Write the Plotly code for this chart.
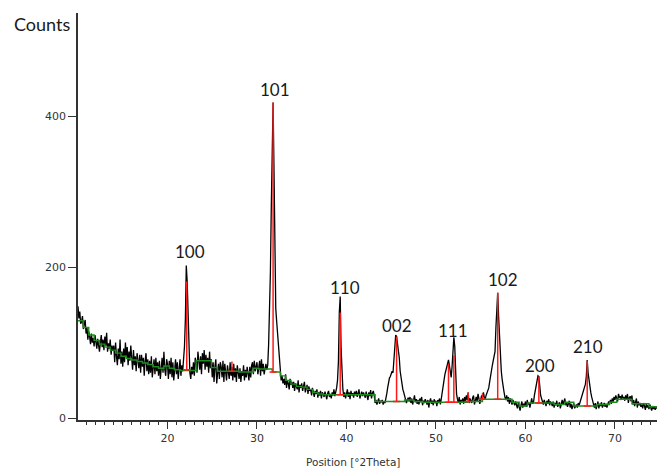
import plotly.graph_objects as go

# ---------------- data ----------------
scan_start = 10.0   # deg 2theta
scan_step = 0.1     # deg 2theta

counts = (
    [148,132,141,125,128,135,118,124,130,112] +   # 10
    [120,104,115,108,98,112,100,106,95,110] +     # 11
    [102,92,105,96,88,100,110,94,104,90] +        # 12
    [108,96,113,88,99,92,104,84,96,89] +          # 13
    [96,74,100,82,70,92,78,104,72,88] +           # 14
    [68,92,74,100,82,94,70,88,76,96] +            # 15
    [84,64,90,70,82,62,86,72,66,84] +             # 16
    [60,84,68,80,56,76,86,62,78,58] +             # 17
    [76,60,82,54,72,78,58,80,62,74] +             # 18
    [56,76,52,70,80,60,88,64,56,78] +             # 19
    [72,52,76,58,80,54,74,50,68,78] +             # 20
    [58,74,52,68,78,56,70,62,74,95] +             # 21
    [132,202,181,133,78,60,52,68,58,74] +         # 22
    [56,80,74,60,88,70,64,82,58,86] +             # 23
    [72,90,64,84,68,80,60,88,66,78] +             # 24
    [54,74,48,68,78,46,60,72,52,74] +             # 25
    [68,54,76,48,72,56,50,70,60,52] +             # 26
    [74,56,68,50,72,54,66,48,70,58] +             # 27
    [52,66,48,62,56,70,50,64,54,68] +             # 28
    [58,50,68,54,70,74,58,76,62,70] +             # 29
    [74,58,70,76,56,78,62,72,58,70] +             # 30
    [72,64,70,97,135,193,280,365,418,330] +       # 31
    [170,145,128,110,104,72,58,50,56,46] +        # 32
    [52,44,58,40,50,46,38,52,44,48] +             # 33
    [40,48,36,46,42,38,50,34,44,40] +             # 34
    [46,36,42,48,34,40,44,32,42,36] +             # 35
    [38,30,40,34,28,36,32,38,27,34] +             # 36
    [30,36,26,34,32,28,35,30,25,33] +             # 37
    [36,28,32,26,34,30,38,29,33,40] +             # 38
    [50,75,140,161,92,54,38,28,34,26] +           # 39
    [32,38,28,34,25,36,30,33,27,35] +             # 40
    [30,36,28,33,38,26,32,35,29,34] +             # 41
    [31,27,35,30,24,34,29,37,26,33] +             # 42
    [36,30,20,24,18,22,26,19,23,21] +             # 43
    [24,18,22,20,25,32,40,48,53,55] +             # 44
    [58,62,60,75,95,110,108,98,95,80] +           # 45
    [62,51,44,38,34,30,26,20,24,27] +             # 46
    [22,28,20,26,18,24,30,21,25,19] +             # 47
    [24,18,26,21,28,17,23,20,25,22] +             # 48
    [18,24,14,22,26,19,23,17,25,20] +             # 49
    [23,16,24,20,26,18,28,35,42,50] +             # 50
    [58,62,66,72,77,70,60,54,68,82] +             # 51
    [107,95,51,32,25,20,28,18,24,22] +            # 52
    [26,19,28,22,30,24,34,20,26,23] +             # 53
    [20,27,30,18,25,28,22,32,26,19] +             # 54
    [24,30,26,34,28,25,30,33,36,40] +             # 55
    [48,57,64,70,76,82,88,120,153,166] +          # 56
    [135,105,82,62,51,40,35,28,24,30] +           # 57
    [22,28,19,26,23,18,24,20,17,22] +             # 58
    [18,13,20,15,10,17,22,14,19,16] +             # 59
    [22,15,24,18,20,14,23,26,19,21] +             # 60
    [30,36,42,50,56,55,40,30,26,22] +             # 61
    [18,24,21,16,23,19,25,17,22,20] +             # 62
    [16,22,14,20,17,23,15,19,21,13] +             # 63
    [19,24,18,22,26,17,21,15,20,23] +             # 64
    [14,19,12,17,20,13,15,18,14,20] +             # 65
    [17,21,24,28,32,36,40,45,55,77] +             # 66
    [60,49,42,34,28,24,18,14,20,12] +             # 67
    [17,22,13,19,16,21,14,18,20,15] +             # 68
    [19,14,18,22,20,24,19,26,22,28] +             # 69
    [24,30,26,22,32,27,29,24,31,26] +             # 70
    [28,23,30,25,32,20,27,29,22,30] +             # 71
    [18,24,16,21,26,14,22,17,20,15] +             # 72
    [18,13,20,16,11,19,14,17,12,18] +             # 73
    [14,10,16,12,15,11,14,13]                     # 74.0-74.7
)
two_theta = [round(scan_start + scan_step * i, 1) for i in range(len(counts))]

# fitted background (step line)
bg_x = [10.0, 10.6, 11.2, 11.8, 12.4, 13.0, 13.6, 14.2, 14.8, 15.4, 16.0, 16.6,
        17.2, 17.8, 18.4, 19.0, 19.6, 20.2, 20.8, 21.4, 23.2, 24.9, 25.6, 28.0,
        29.6, 30.2, 31.7, 32.6, 33.2, 33.8, 34.4, 35.0, 35.6, 36.2, 36.8, 37.4,
        43.2, 46.5, 47.5, 48.5, 53.5, 55.2, 58.5, 59.3, 60.2, 62.3, 63.2, 64.4,
        65.4, 68.0, 69.4, 70.2, 71.9, 73.8, 74.7]
bg_y = [129, 120, 110, 103, 98, 94, 90, 86, 82, 79, 77, 75,
        73, 71, 68, 66, 69, 66, 64, 63, 76, 67, 62, 61,
        66, 65, 61, 56, 50, 45, 42, 41, 38, 34, 32, 31,
        22, 24, 22, 21, 22, 25, 21, 16, 20, 20, 18, 21,
        16, 18, 21, 25, 19, 15, 15]

# peak list (stick positions, base and top intensity)
peak_pos = [22.15, 27.2, 31.8, 39.3, 45.6, 51.4, 52.0, 53.6, 55.2, 56.9, 61.5, 66.9]
peak_base = [64, 62, 61, 31, 22, 21, 21, 22, 25, 25, 20, 16]
peak_top = [181, 75, 418, 140, 108, 72, 83, 34, 33, 166, 55, 76]

hkl_labels = ["100", "101", "110", "002", "111", "102", "200", "210"]
hkl_x = [22.5, 32.0, 39.8, 45.6, 51.9, 57.5, 61.6, 67.0]
hkl_y = [220, 435, 173, 122, 116, 184, 70, 95]

# ---------------- figure ----------------
stick_x, stick_y = [], []
half_w = 0.4
for p, b, t in zip(peak_pos, peak_base, peak_top):
    stick_x += [p, p, None, p - half_w, p + half_w, None]
    stick_y += [b, t, None, b, b, None]

fig = go.Figure()
fig.add_trace(go.Scatter(x=two_theta, y=counts, mode="lines",
                         line=dict(color="black", width=1.3), hoverinfo="skip"))
fig.add_trace(go.Scatter(x=bg_x, y=bg_y, mode="lines",
                         line=dict(color="#1e8c1e", width=1.4, shape="hv"), hoverinfo="skip"))
fig.add_trace(go.Scatter(x=stick_x, y=stick_y, mode="lines",
                         line=dict(color="#ff1a1a", width=1.5), hoverinfo="skip"))

for lab, lx, ly in zip(hkl_labels, hkl_x, hkl_y):
    fig.add_annotation(x=lx, y=ly, text=lab, showarrow=False, xanchor="center", yanchor="middle",
                       font=dict(family="Lato", size=17, color="#1a1a1a"))

fig.add_annotation(xref="paper", yref="paper", x=-0.062, y=0.973, text="Counts",
                   showarrow=False, xanchor="center", yanchor="middle",
                   font=dict(family="Lato", size=18, color="#1a1a1a"))
fig.add_annotation(xref="paper", yref="paper", x=0.475, y=-0.103, text="Position [°2Theta]",
                   showarrow=False, xanchor="center", yanchor="middle",
                   font=dict(family="DejaVu Sans", size=10.5, color="#333333"))

axis_col = "#333333"
fig.update_layout(
    width=657, height=468,
    margin=dict(l=78, r=0, t=13, b=48),
    paper_bgcolor="white", plot_bgcolor="white",
    showlegend=False,
    xaxis=dict(range=[10, 74.7], showgrid=False, zeroline=False,
               showline=True, linecolor=axis_col, linewidth=1.5,
               tickvals=[20, 30, 40, 50, 60, 70], ticks="outside", ticklen=7,
               tickwidth=1.3, tickcolor=axis_col,
               tickfont=dict(family="DejaVu Sans", size=11, color="#333333"),
               minor=dict(tickvals=list(range(11, 75)), ticks="outside", ticklen=3,
                          tickwidth=1, tickcolor=axis_col)),
    yaxis=dict(range=[-2.5, 536.5], showgrid=False, zeroline=False,
               showline=True, linecolor=axis_col, linewidth=1.5,
               tickvals=[0, 200, 400], ticks="outside", ticklen=8,
               tickwidth=1.3, tickcolor=axis_col,
               tickfont=dict(family="DejaVu Sans", size=11, color="#333333")),
)

fig.write_html("out.html", config={"displayModeBar": False},
               post_script="document.body.style.margin='0';document.body.style.overflow='hidden';")
